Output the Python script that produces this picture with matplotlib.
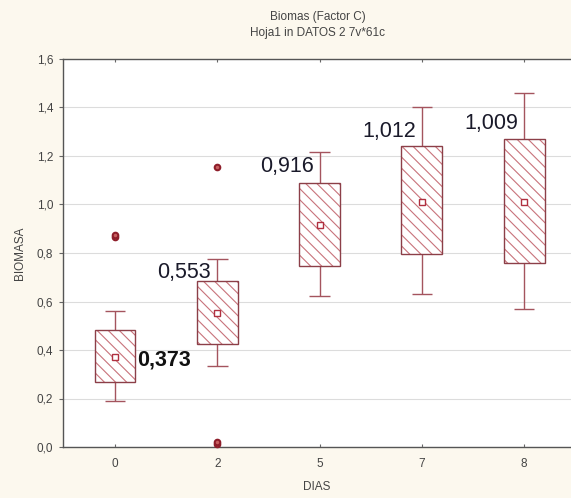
import matplotlib
matplotlib.use("Agg")
import matplotlib.pyplot as plt
import numpy as np

plt.rcParams['font.family'] = ['Liberation Sans', 'DejaVu Sans']
plt.rcParams['hatch.linewidth'] = 0.8

# ---- data ----
days = ["0", "2", "5", "7", "8"]
q1 = [0.268, 0.425, 0.748, 0.795, 0.759]
q3 = [0.482, 0.686, 1.090, 1.240, 1.269]
whisk_lo = [0.190, 0.334, 0.623, 0.631, 0.568]
whisk_hi = [0.562, 0.774, 1.218, 1.403, 1.459]
means = [0.373, 0.553, 0.916, 1.012, 1.009]
mean_labels = ["0,373", "0,553", "0,916", "1,012", "1,009"]
outlier_x = [0, 0, 1, 1, 1]
outlier_y = [0.868, 0.876, 1.155, 0.012, 0.022]
yticks = [0.0, 0.2, 0.4, 0.6, 0.8, 1.0, 1.2, 1.4, 1.6]
ytick_labels = ["0,0", "0,2", "0,4", "0,6", "0,8", "1,0", "1,2", "1,4", "1,6"]

edge_c = "#8c3f48"
whisk_c = "#a4545e"
hatch_c = "#c8737b"
out_c = "#8e1e2a"

fig = plt.figure(figsize=(5.71, 4.98), dpi=100, facecolor="#fcf8ee")
ax = fig.add_axes([63/571, 1-447/498, 1-63/571, (447-59)/498])
ax.set_facecolor("white")

x = np.arange(len(days))
bw = 0.40
cap = 0.20

# whiskers
ax.vlines(x, q3, whisk_hi, color=whisk_c, lw=1, zorder=2)
ax.vlines(x, whisk_lo, q1, color=whisk_c, lw=1, zorder=2)
ax.hlines(whisk_hi, x - cap/2, x + cap/2, color=whisk_c, lw=1, zorder=2)
ax.hlines(whisk_lo, x - cap/2, x + cap/2, color=whisk_c, lw=1, zorder=2)

# boxes: hatch layer then outline
heights = np.array(q3) - np.array(q1)
ax.bar(x, heights, bottom=q1, width=bw, color="white", edgecolor=hatch_c,
       hatch="\\\\\\", linewidth=0, zorder=3)
ax.bar(x, heights, bottom=q1, width=bw, fill=False, edgecolor=edge_c,
       linewidth=1, zorder=4)

# means
ax.plot(x, means, "s", ms=4.5, mfc="white", mec="#b03040", mew=1, ls="none", zorder=5)

# outliers
ax.plot(outlier_x, outlier_y, "o", ms=4, mfc="#c86060", mec=out_c, mew=1.5,
        ls="none", zorder=5, clip_on=False)

# value labels
ax.text(x[0] + bw/2 + 0.02, 0.358, mean_labels[0], fontsize=15.5, fontweight="bold",
        ha="left", va="center", color="#111111", zorder=6)
label_y = [None, 0.72, 1.155, 1.30, 1.335]
for i in range(1, len(days)):
    ax.text(x[i] - 0.06, label_y[i], mean_labels[i], fontsize=15.5, ha="right",
            va="center", color="#1a1a2a", zorder=6)

ax.set_ylim(0, 1.6)
ax.set_xlim(-0.508, 4.457)
ax.set_yticks(yticks)
ax.set_yticklabels(ytick_labels)
ax.set_xticks(x)
ax.set_xticklabels(days)
ax.yaxis.grid(True, color="#dcdcdc", lw=0.8)
ax.set_axisbelow(True)

for s in ["left", "bottom", "top"]:
    ax.spines[s].set_color("#555555")
    ax.spines[s].set_linewidth(1)
ax.spines["right"].set_visible(False)

ax.tick_params(axis="y", direction="out", length=3, width=0.8, color="#666666",
               labelsize=8.5, labelcolor="#444444", pad=4)
ax.tick_params(axis="x", direction="in", length=2, width=0.8, color="#666666",
               labelsize=8.5, labelcolor="#444444", pad=8, top=True)

ax.set_ylabel("BIOMASA", fontsize=8.5, color="#444444", labelpad=8)
ax.set_xlabel("DIAS", fontsize=8.5, color="#444444", labelpad=8)

fig.text(318/571, 1-17/498, "Biomas (Factor C)", ha="center", va="center",
         fontsize=8.5, color="#444444")
fig.text(318/571, 1-33/498, "Hoja1 in DATOS 2 7v*61c", ha="center", va="center",
         fontsize=8.5, color="#444444")

fig.savefig("out.png", dpi=100, facecolor=fig.get_facecolor())
